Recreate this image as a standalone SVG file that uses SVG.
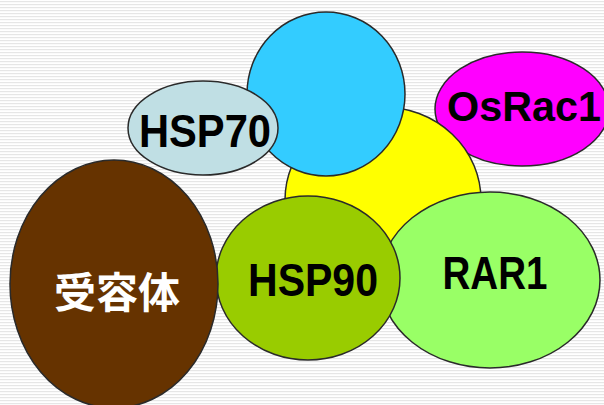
<svg xmlns="http://www.w3.org/2000/svg" width="604" height="405" viewBox="0 0 604 405">
<defs>
<pattern id="stripes" x="0" y="1" width="8" height="3" patternUnits="userSpaceOnUse">
<rect x="0" y="0" width="8" height="3" fill="#ffffff"/>
<rect x="0" y="0" width="8" height="1.2" fill="#e6e6e6"/>
</pattern>
<style>
.c{stroke:#2a2a2a;stroke-width:1.5}
.t{font-family:"Liberation Sans",Arial,sans-serif;font-weight:bold;fill:#000;text-anchor:middle}
.cjk{font-family:"Noto Sans CJK JP","Noto Sans CJK SC",sans-serif;font-weight:bold;fill:#fff;text-anchor:middle}
</style>
</defs>
<rect x="0" y="0" width="604" height="405" fill="url(#stripes)"/>
<g id="osrac1">
<ellipse class="c" cx="522" cy="109" rx="87" ry="57" fill="#ff00ff"/>
<text class="t" x="524" y="121" font-size="42" textLength="154" lengthAdjust="spacingAndGlyphs">OsRac1</text>
</g>
<g id="yellow">
<ellipse class="c" cx="383" cy="200" rx="98" ry="93" fill="#ffff00"/>
</g>
<g id="blue">
<ellipse class="c" cx="326" cy="94" rx="79" ry="82" fill="#33ccff"/>
</g>
<g id="rar1">
<ellipse class="c" cx="490" cy="280" rx="110" ry="88" fill="#99ff66"/>
<text class="t" x="495" y="289" font-size="46" textLength="105" lengthAdjust="spacingAndGlyphs">RAR1</text>
</g>
<g id="hsp90">
<ellipse class="c" cx="308" cy="278" rx="92" ry="82" fill="#99cc00"/>
<text class="t" x="313" y="296" font-size="47" textLength="130" lengthAdjust="spacingAndGlyphs">HSP90</text>
</g>
<g id="receptor">
<ellipse class="c" cx="114" cy="284" rx="104" ry="124" fill="#663300"/>
<text class="cjk" x="117" y="308" font-size="42">受容体</text>
</g>
<g id="hsp70">
<ellipse class="c" cx="203" cy="128" rx="75" ry="47" fill="#c0dfe4"/>
<text class="t" x="205" y="147" font-size="47" textLength="132" lengthAdjust="spacingAndGlyphs">HSP70</text>
</g>
<g id="connectors"></g>
</svg>
